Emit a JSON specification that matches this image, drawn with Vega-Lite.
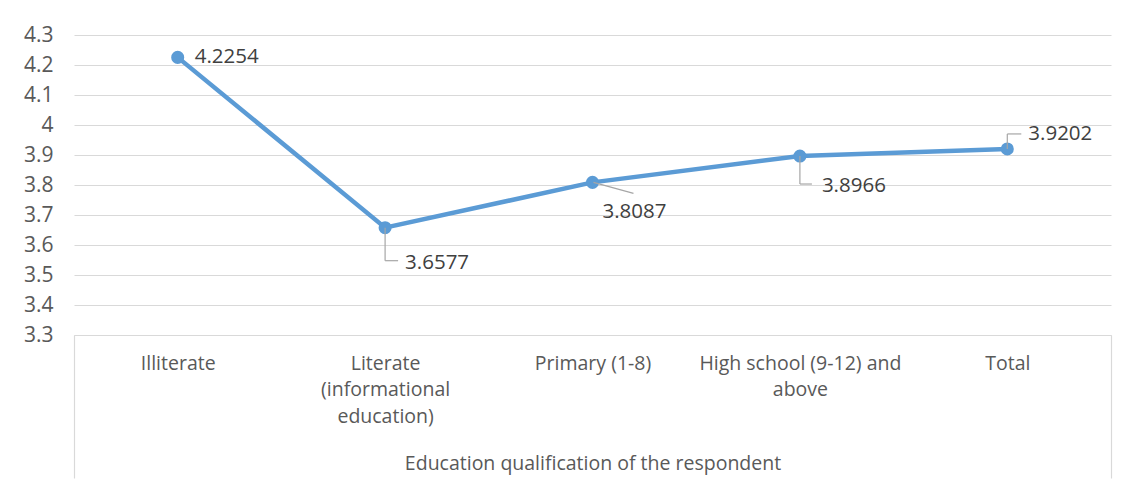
{
  "$schema": "https://vega.github.io/schema/vega-lite/v6.json",
  "width": 1037,
  "height": 300,
  "autosize": {"type": "none"},
  "padding": {"left": 74, "top": 35, "right": 19, "bottom": 152},
  "background": "white",
  "config": {
    "view": {"stroke": null},
    "font": "Open Sans",
    "axis": {"labelFont": "Open Sans", "titleFont": "Open Sans"}
  },
  "data": {
    "values": [
      {"category": "Illiterate", "score": 4.2254},
      {"category": "Literate (informational education)", "score": 3.6577},
      {"category": "Primary (1-8)", "score": 3.8087},
      {"category": "High school (9-12) and above", "score": 3.8966},
      {"category": "Total", "score": 3.9202}
    ]
  },
  "encoding": {
    "x": {
      "field": "category",
      "type": "nominal",
      "sort": null,
      "scale": {"paddingInner": 0, "paddingOuter": 0},
      "axis": {
        "title": "Education qualification of the respondent",
        "titleFontSize": 19.5,
        "titleFontWeight": "normal",
        "titleColor": "#595959",
        "titleY": 128,
        "titleBaseline": "middle",
        "labelAngle": 0,
        "labelFontSize": 19.5,
        "labelColor": "#595959",
        "labelLineHeight": 26.5,
        "labelBaseline": "top",
        "labelPadding": -124,
        "labelLimit": 0,
        "labelExpr": "datum.label == 'Literate (informational education)' ? ['Literate', '(informational', 'education)'] : datum.label == 'High school (9-12) and above' ? ['High school (9-12) and', 'above'] : datum.label",
        "domainColor": "#d9d9d9",
        "ticks": true,
        "tickBand": "extent",
        "tickSize": 143,
        "tickColor": "#d9d9d9",
        "tickWidth": 1.2,
        "tickOpacity": {"condition": {"test": "datum.value === 'Illiterate' || datum.value === 'Literate (informational education)' || datum.value === 'Primary (1-8)' || datum.value === 'High school (9-12) and above'", "value": 0}, "value": 1}
      }
    },
    "y": {
      "field": "score",
      "type": "quantitative",
      "scale": {"domain": [3.3, 4.3], "nice": false, "zero": false},
      "axis": {
        "title": null,
        "values": [3.3, 3.4, 3.5, 3.6, 3.7, 3.8, 3.9, 4.0, 4.1, 4.2, 4.3],
        "labelExpr": "format(datum.value, '~g')",
        "labelFontSize": 21,
        "labelColor": "#595959",
        "labelPadding": 21,
        "ticks": false,
        "domain": false,
        "gridColor": "#d9d9d9",
        "gridWidth": 1.2
      }
    }
  },
  "layer": [
    {"mark": {"type": "line", "color": "#5b9bd5", "strokeWidth": 4.5}},
    {"mark": {"type": "point", "filled": true, "color": "#5b9bd5", "size": 170, "opacity": 1}},
    {
      "transform": [{"filter": "datum.category == 'Literate (informational education)'"}],
      "mark": {"type": "rule", "color": "#a6a6a6", "strokeWidth": 1.2, "y2Offset": 33},
      "encoding": {"y2": {"field": "score"}}
    },
    {
      "transform": [{"filter": "datum.category == 'Literate (informational education)'"}],
      "mark": {"type": "rule", "color": "#a6a6a6", "strokeWidth": 1.2, "yOffset": 33, "x2Offset": 13},
      "encoding": {"x2": {"field": "category"}}
    },
    {
      "transform": [{"filter": "datum.category == 'Primary (1-8)'"}],
      "mark": {"type": "rule", "color": "#a6a6a6", "strokeWidth": 1.2, "xOffset": 1, "x2Offset": 41, "y2Offset": 11},
      "encoding": {"x2": {"field": "category"}, "y2": {"field": "score"}}
    },
    {
      "transform": [{"filter": "datum.category == 'High school (9-12) and above'"}],
      "mark": {"type": "rule", "color": "#a6a6a6", "strokeWidth": 1.2, "y2Offset": 28},
      "encoding": {"y2": {"field": "score"}}
    },
    {
      "transform": [{"filter": "datum.category == 'High school (9-12) and above'"}],
      "mark": {"type": "rule", "color": "#a6a6a6", "strokeWidth": 1.2, "yOffset": 28, "x2Offset": 12},
      "encoding": {"x2": {"field": "category"}}
    },
    {
      "transform": [{"filter": "datum.category == 'Total'"}],
      "mark": {"type": "rule", "color": "#a6a6a6", "strokeWidth": 1.2, "y2Offset": -15},
      "encoding": {"y2": {"field": "score"}}
    },
    {
      "transform": [{"filter": "datum.category == 'Total'"}],
      "mark": {"type": "rule", "color": "#a6a6a6", "strokeWidth": 1.2, "yOffset": -15, "x2Offset": 14},
      "encoding": {"x2": {"field": "category"}}
    },
    {
      "transform": [{"filter": "datum.category == 'Illiterate'"}],
      "mark": {"type": "text", "align": "left", "baseline": "middle", "dx": 17, "dy": 0, "fontSize": 20.5, "color": "#404040"},
      "encoding": {"text": {"field": "score", "format": ".4f"}}
    },
    {
      "transform": [{"filter": "datum.category == 'Literate (informational education)'"}],
      "mark": {"type": "text", "align": "left", "baseline": "middle", "dx": 20, "dy": 35, "fontSize": 20.5, "color": "#404040"},
      "encoding": {"text": {"field": "score", "format": ".4f"}}
    },
    {
      "transform": [{"filter": "datum.category == 'Primary (1-8)'"}],
      "mark": {"type": "text", "align": "left", "baseline": "middle", "dx": 10, "dy": 30, "fontSize": 20.5, "color": "#404040"},
      "encoding": {"text": {"field": "score", "format": ".4f"}}
    },
    {
      "transform": [{"filter": "datum.category == 'High school (9-12) and above'"}],
      "mark": {"type": "text", "align": "left", "baseline": "middle", "dx": 22, "dy": 30, "fontSize": 20.5, "color": "#404040"},
      "encoding": {"text": {"field": "score", "format": ".4f"}}
    },
    {
      "transform": [{"filter": "datum.category == 'Total'"}],
      "mark": {"type": "text", "align": "left", "baseline": "middle", "dx": 21, "dy": -15, "fontSize": 20.5, "color": "#404040"},
      "encoding": {"text": {"field": "score", "format": ".4f"}}
    }
  ]
}
